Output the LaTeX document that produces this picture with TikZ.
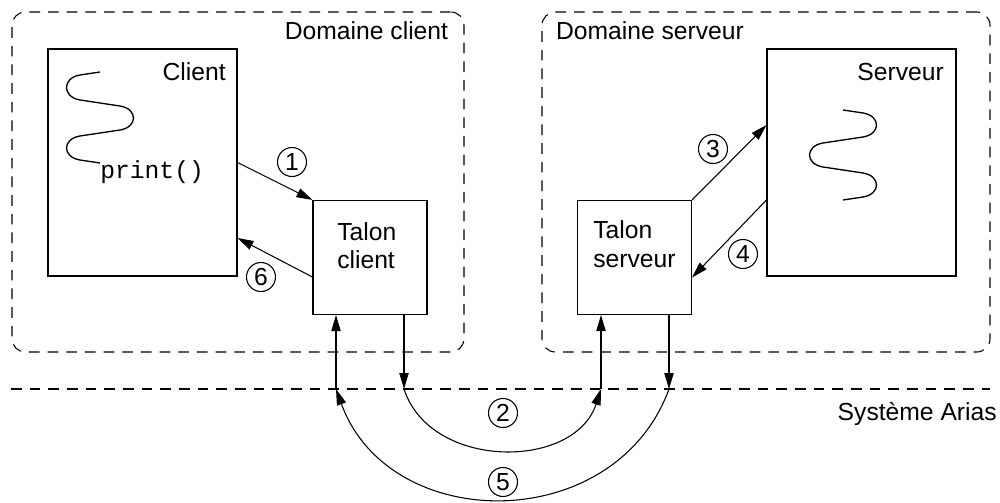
\documentclass[tikz,border=0pt]{standalone}
\usepackage{fontspec}
\setmainfont{Liberation Sans}
\setmonofont{Liberation Mono}
\usetikzlibrary{arrows.meta}
\begin{document}
\begin{tikzpicture}[x=0.75pt,y=0.75pt,
  box/.style={draw, line width=0.8pt, inner sep=0pt},
  domainbox/.style={draw, line width=0.8pt, dash pattern=on 8pt off 6pt, rounded corners=10pt, inner sep=0pt},
  lbl/.style={font=\fontsize{18.5}{22}\selectfont, inner sep=0pt},
  code/.style={font=\ttfamily\fontsize{18.5}{22}\selectfont, inner sep=0pt},
  num/.style={circle, draw, line width=0.8pt, minimum size=21.75pt, inner sep=0pt, font=\fontsize{18.5}{22}\selectfont},
  arr/.style={-{Triangle[length=12pt,width=7pt]}, line width=0.8pt},
  sysline/.style={line width=0.8pt, dash pattern=on 8pt off 6pt},
  wave/.style={line width=1pt}]
\useasboundingbox (0,0) rectangle (1000,-503);

% domains
\node[domainbox, minimum width=339pt, minimum height=255pt] (dcli) at (238,-182) {};
\node[domainbox, minimum width=336pt, minimum height=255pt] (dsrv) at (766,-182) {};
\node[lbl, anchor=base] (tdcli) at (366.5,-40) {Domaine client};
\node[lbl, anchor=base] (tdsrv) at (650,-40) {Domaine serveur};

% system line
\coordinate (sysL) at (11,-389);
\coordinate (sysR) at (990,-389);
\draw[sysline] (sysL) -- (sysR);
\node[lbl, anchor=base east] (sys) at (997,-420) {Système Arias};

% processes
\node[box, minimum width=141.75pt, minimum height=170.25pt] (cli) at (142.5,-162.5) {};
\node[box, minimum width=141.75pt, minimum height=170.25pt] (srv) at (861.5,-162.5) {};
\node[lbl, anchor=base east] (tcl) at (226,-80) {Client};
\node[lbl, anchor=base east] (tsv) at (944,-80) {Serveur};
\node[code, anchor=base west] (pr) at (100,-178) {print()};

% threads of control
\draw[wave] (100,-72) -- (80,-75)
  .. controls (62,-78) and (62,-97) .. (80,-100) -- (120,-106)
  .. controls (138,-109) and (138,-127) .. (120,-130) -- (80,-136)
  .. controls (62,-139) and (62,-157) .. (80,-160) -- (100,-163);
\draw[wave] (843,-110) -- (863,-113)
  .. controls (881,-116) and (881,-134) .. (863,-137) -- (823,-143)
  .. controls (805,-146) and (805,-164) .. (823,-167) -- (863,-173)
  .. controls (881,-176) and (881,-194) .. (863,-197) -- (843,-200);

% stubs
\node[box, minimum size=85.5pt] (tcli) at (370,-257.5) {};
\node[box, minimum size=85.5pt] (tsrv) at (634.5,-257.5) {};
\node[lbl, anchor=base west] (tc1) at (337,-240) {Talon};
\node[lbl, anchor=base west] (tc2) at (337,-268) {client};
\node[lbl, anchor=base west] (ts1) at (593,-238) {Talon};
\node[lbl, anchor=base west] (ts2) at (593,-267) {serveur};

% local calls
\draw[arr] (cli.east) -- (tcli.north west);
\draw[arr] ([yshift=28.5pt]tcli.south west) -- ([yshift=-56.6pt]cli.east);
\draw[arr] (tsrv.north east) -- ([yshift=28.1pt]srv.west);
\draw[arr] ([yshift=-28.1pt]srv.west) -- ([yshift=-15pt]tsrv.east);

% system crossings
\coordinate (s1) at (336,-389);
\coordinate (s2) at (404,-389);
\coordinate (s3) at (601,-389);
\coordinate (s4) at (669,-389);
\draw[arr] (s1) -- (s1 |- tcli.south);
\draw[arr] (s2 |- tcli.south) -- (s2);
\draw[arr] (s3) -- (s3 |- tsrv.south);
\draw[arr] (s4 |- tsrv.south) -- (s4);
\draw[arr] (s2) .. controls +(26.4,-81.3) and +(-26.4,-81.3) .. (s3);
\draw[arr] (s4) .. controls +(-53.4,-146.6) and +(53.4,-146.6) .. (s1);

% step numbers
\node[num] (n1) at (292,-162) {1};
\node[num] (n2) at (503,-413) {2};
\node[num] (n3) at (713,-149) {3};
\node[num] (n4) at (743,-254) {4};
\node[num] (n5) at (503,-482) {5};
\node[num] (n6) at (261,-277) {6};
\end{tikzpicture}
\end{document}
